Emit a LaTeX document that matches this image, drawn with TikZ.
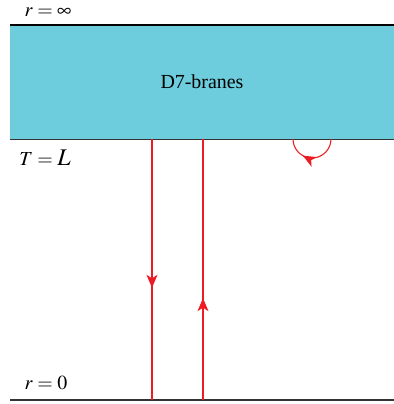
\documentclass[tikz,border=0pt]{standalone}
\usepackage{mathptmx}
\usepackage{fontspec}
\setmainfont{Liberation Serif}
\usetikzlibrary{arrows.meta,decorations.markings}

\definecolor{branecyan}{RGB}{109,205,221}
\definecolor{stringred}{RGB}{237,28,36}

\tikzset{
  boundary/.style={draw=black!80, line width=1.3pt},
  redstring/.style={draw=stringred, line width=1.1pt},
  midarrow/.style={postaction={decorate},
    decoration={markings, mark=at position #1 with {\arrow[stringred]{Stealth[length=13pt, width=11pt, inset=3.5pt]}}}},
  tag/.style={font=\fontsize{20}{24}\selectfont, inner sep=0pt}
}

\begin{document}
\begin{tikzpicture}[x=1bp, y=-1bp]
  \useasboundingbox (0,0) rectangle (394,404);

  % D7 branes slab
  \node[fill=branecyan, minimum width=384bp, minimum height=114bp, inner sep=0pt, tag] (branes) at (202,82) {D7-branes};
  \draw[black, line width=2pt] (branes.north west) -- (branes.north east);
  \draw[boundary] (branes.south west) -- (branes.south east);

  % horizon at r = 0
  \coordinate (horizonL) at (10,400);
  \coordinate (horizonR) at (394,400);
  \draw[boundary] (horizonL) -- (horizonR);

  % labels
  \node[tag] (rinf) at (48,12.5) {$r=\infty$};
  \node[tag] (tl) at (45,158) {$T={}${\fontsize{24}{28}\selectfont$L$}};
  \node[tag] (rzero) at (46,383) {$r=0$};

  % string endpoints
  \coordinate (downTop) at (152,139);
  \coordinate (downBot) at (152,400);
  \coordinate (upBot) at (203,400);
  \coordinate (upTop) at (203,139);
  \draw[redstring, midarrow=0.57] (downTop) -- (downBot);
  \draw[redstring, midarrow=0.39] (upBot) -- (upTop);

  % small loop under the branes
  \coordinate (loopR) at (331,139);
  \draw[redstring, midarrow=0.66] (loopR) arc[start angle=0, end angle=180, radius=19];
\end{tikzpicture}
\end{document}
